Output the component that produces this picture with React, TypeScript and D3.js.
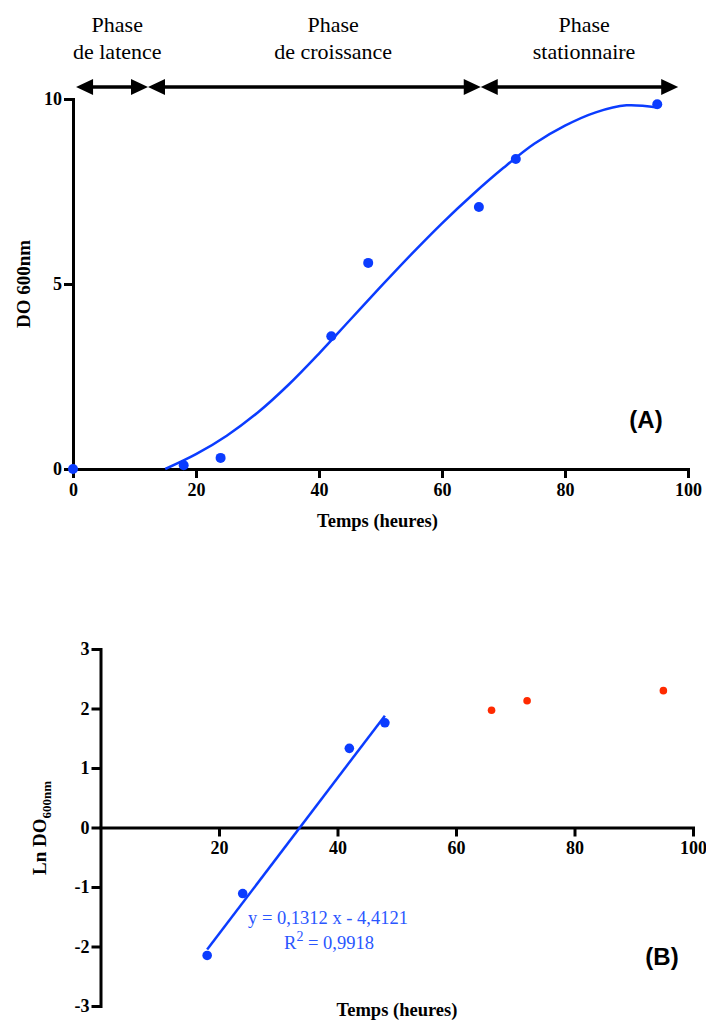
import { useEffect, useRef } from "react";
import { select, scaleLinear, axisBottom, axisLeft, line, curveCatmullRom } from "d3";

// (A) growth curve - optical density
const hoursA = [0, 18, 24, 42, 48, 66, 72, 95];
const odA = [0, 0.1, 0.3, 3.59, 5.57, 7.08, 8.38, 9.86];

// fitted curve
const fitHours = [15, 20, 25, 30, 35, 40, 45, 50, 55, 60, 65, 70, 75, 80, 85, 90, 95];
const fitOD = [0, 0.4, 0.9, 1.52, 2.27, 3.12, 4.02, 4.92, 5.8, 6.64, 7.42, 8.14, 8.79, 9.28, 9.64, 9.83, 9.77];

// phases
const phaseTop = ["Phase", "Phase", "Phase"];
const phaseBottom = ["de latence", "de croissance", "stationnaire"];
const phaseBreaks = [0.5, 12.2, 66.3, 98.4];
const phaseLabelAt = [7.2, 42.3, 83.1];

// (B) ln of optical density
const hoursBlue = [18, 24, 42, 48];
const lnBlue = [-2.15, -1.11, 1.33, 1.76];
const hoursRed = [66, 72, 95];
const lnRed = [1.97, 2.13, 2.3];
const regHours = [18, 48];
const regLn = [-2.05, 1.88];

const ticksAX = [0, 20, 40, 60, 80, 100];
const ticksAY = [0, 5, 10];
const ticksBX = [20, 40, 60, 80, 100];
const ticksBY = [-3, -2, -1, 0, 1, 2, 3];

const serif = "'Liberation Serif', 'Times New Roman', serif";
const sans = "'Liberation Sans', Arial, sans-serif";
const blue = "#0b3cff";
const red = "#ff2a00";

const styleAxis = (g) => {
  g.select(".domain").attr("stroke-width", 3).attr("stroke-linecap", "square");
  g.selectAll(".tick line").attr("stroke-width", 3);
  g.selectAll(".tick text")
    .attr("font-family", serif)
    .attr("font-size", 18)
    .attr("font-weight", "bold")
    .attr("fill", "#000");
};

export default function App() {
  const ref = useRef<SVGSVGElement>(null);

  useEffect(() => {
    const svg = select(ref.current);
    svg.selectAll("*").remove();

    // ---------- chart A ----------
    const xA = scaleLinear().domain([0, 100]).range([73, 688]);
    const yA = scaleLinear().domain([0, 10]).range([469, 99]);

    svg
      .append("g")
      .attr("transform", `translate(0,${yA(0)})`)
      .call(axisBottom(xA).tickValues(ticksAX).tickSize(9).tickPadding(5).tickSizeOuter(0).tickFormat((d) => String(d)))
      .call(styleAxis);

    svg
      .append("g")
      .attr("transform", `translate(${xA(0)},0)`)
      .call(axisLeft(yA).tickValues(ticksAY).tickSize(9).tickPadding(2).tickSizeOuter(0).tickFormat((d) => String(d)))
      .call(styleAxis);

    // phase arrows
    const arrowY = 87;
    const headL = 17;
    const headH = 8;
    phaseTop.forEach((t, i) => {
      const L = xA(phaseBreaks[i]);
      const R = xA(phaseBreaks[i + 1]);
      svg
        .append("line")
        .attr("x1", L + headL - 2)
        .attr("x2", R - headL + 2)
        .attr("y1", arrowY)
        .attr("y2", arrowY)
        .attr("stroke", "#000")
        .attr("stroke-width", 3.5);
      svg
        .append("polygon")
        .attr("points", `${L},${arrowY} ${L + headL},${arrowY - headH} ${L + headL},${arrowY + headH}`)
        .attr("fill", "#000");
      svg
        .append("polygon")
        .attr("points", `${R},${arrowY} ${R - headL},${arrowY - headH} ${R - headL},${arrowY + headH}`)
        .attr("fill", "#000");

      const tx = svg
        .append("text")
        .attr("x", xA(phaseLabelAt[i]))
        .attr("text-anchor", "middle")
        .attr("font-family", serif)
        .attr("font-size", 22)
        .attr("fill", "#000");
      tx.append("tspan").attr("x", xA(phaseLabelAt[i])).attr("y", 32).text(t);
      tx.append("tspan").attr("x", xA(phaseLabelAt[i])).attr("y", 59).text(phaseBottom[i]);
    });

    // fitted curve
    const fitLine = line<number>()
      .x((d, i) => xA(fitHours[i]))
      .y((d) => yA(d))
      .curve(curveCatmullRom.alpha(0.5));
    svg
      .append("path")
      .attr("d", fitLine(fitOD))
      .attr("fill", "none")
      .attr("stroke", blue)
      .attr("stroke-width", 2.5);

    svg
      .append("g")
      .selectAll("circle")
      .data(odA)
      .join("circle")
      .attr("cx", (d, i) => xA(hoursA[i]))
      .attr("cy", (d) => yA(d))
      .attr("r", 5)
      .attr("fill", blue);

    svg
      .append("text")
      .attr("x", xA(49.5))
      .attr("y", 527)
      .attr("text-anchor", "middle")
      .attr("font-family", serif)
      .attr("font-size", 18.5)
      .attr("font-weight", "bold")
      .text("Temps (heures)");

    svg
      .append("text")
      .attr("transform", `translate(30,${yA(5)}) rotate(-90)`)
      .attr("text-anchor", "middle")
      .attr("font-family", serif)
      .attr("font-size", 19)
      .attr("font-weight", "bold")
      .text("DO 600nm");

    svg
      .append("text")
      .attr("x", 646)
      .attr("y", 428)
      .attr("text-anchor", "middle")
      .attr("font-family", sans)
      .attr("font-size", 24)
      .attr("font-weight", "bold")
      .text("(A)");

    // ---------- chart B ----------
    const xB = scaleLinear().domain([0, 100]).range([100.5, 693]);
    const yB = scaleLinear().domain([-3, 3]).range([1006, 649]);

    svg
      .append("g")
      .attr("transform", `translate(0,${yB(0)})`)
      .call(axisBottom(xB).tickValues(ticksBX).tickSize(9).tickPadding(5).tickSizeOuter(0).tickFormat((d) => String(d)))
      .call(styleAxis);

    svg
      .append("g")
      .attr("transform", `translate(${xB(0)},0)`)
      .call(axisLeft(yB).tickValues(ticksBY).tickSize(9).tickPadding(2).tickSizeOuter(0).tickFormat((d) => String(d)))
      .call(styleAxis);

    const regLine = line<number>()
      .x((d, i) => xB(regHours[i]))
      .y((d) => yB(d));
    svg
      .append("path")
      .attr("d", regLine(regLn))
      .attr("fill", "none")
      .attr("stroke", blue)
      .attr("stroke-width", 2.5);

    svg
      .append("g")
      .selectAll("circle")
      .data(lnBlue)
      .join("circle")
      .attr("cx", (d, i) => xB(hoursBlue[i]))
      .attr("cy", (d) => yB(d))
      .attr("r", 4.8)
      .attr("fill", blue);

    svg
      .append("g")
      .selectAll("circle")
      .data(lnRed)
      .join("circle")
      .attr("cx", (d, i) => xB(hoursRed[i]))
      .attr("cy", (d) => yB(d))
      .attr("r", 3.8)
      .attr("fill", red);

    svg
      .append("text")
      .attr("x", 328)
      .attr("y", 924)
      .attr("text-anchor", "middle")
      .attr("font-family", serif)
      .attr("font-size", 18.5)
      .attr("fill", "#2a56ff")
      .text("y = 0,1312 x - 4,4121");

    const r2 = svg
      .append("text")
      .attr("x", 329)
      .attr("y", 949)
      .attr("text-anchor", "middle")
      .attr("font-family", serif)
      .attr("font-size", 18.5)
      .attr("fill", "#2a56ff");
    r2.append("tspan").text("R");
    r2.append("tspan").attr("font-size", 14).attr("dy", -8).text("2");
    r2.append("tspan").attr("dy", 8).text(" = 0,9918");

    svg
      .append("text")
      .attr("x", 662)
      .attr("y", 965)
      .attr("text-anchor", "middle")
      .attr("font-family", sans)
      .attr("font-size", 24)
      .attr("font-weight", "bold")
      .text("(B)");

    svg
      .append("text")
      .attr("x", 397)
      .attr("y", 1016)
      .attr("text-anchor", "middle")
      .attr("font-family", serif)
      .attr("font-size", 18.5)
      .attr("font-weight", "bold")
      .text("Temps (heures)");

    const yt = svg
      .append("text")
      .attr("transform", `translate(46,828) rotate(-90)`)
      .attr("text-anchor", "middle")
      .attr("font-family", serif)
      .attr("font-size", 19)
      .attr("font-weight", "bold");
    yt.append("tspan").text("Ln DO");
    yt.append("tspan").attr("font-size", 13).attr("dy", 5).text("600nm");
  }, []);

  return (
    <svg
      ref={ref}
      width={706}
      height={1023}
      style={{ position: "absolute", left: 0, top: 0, background: "#fff" }}
    />
  );
}
